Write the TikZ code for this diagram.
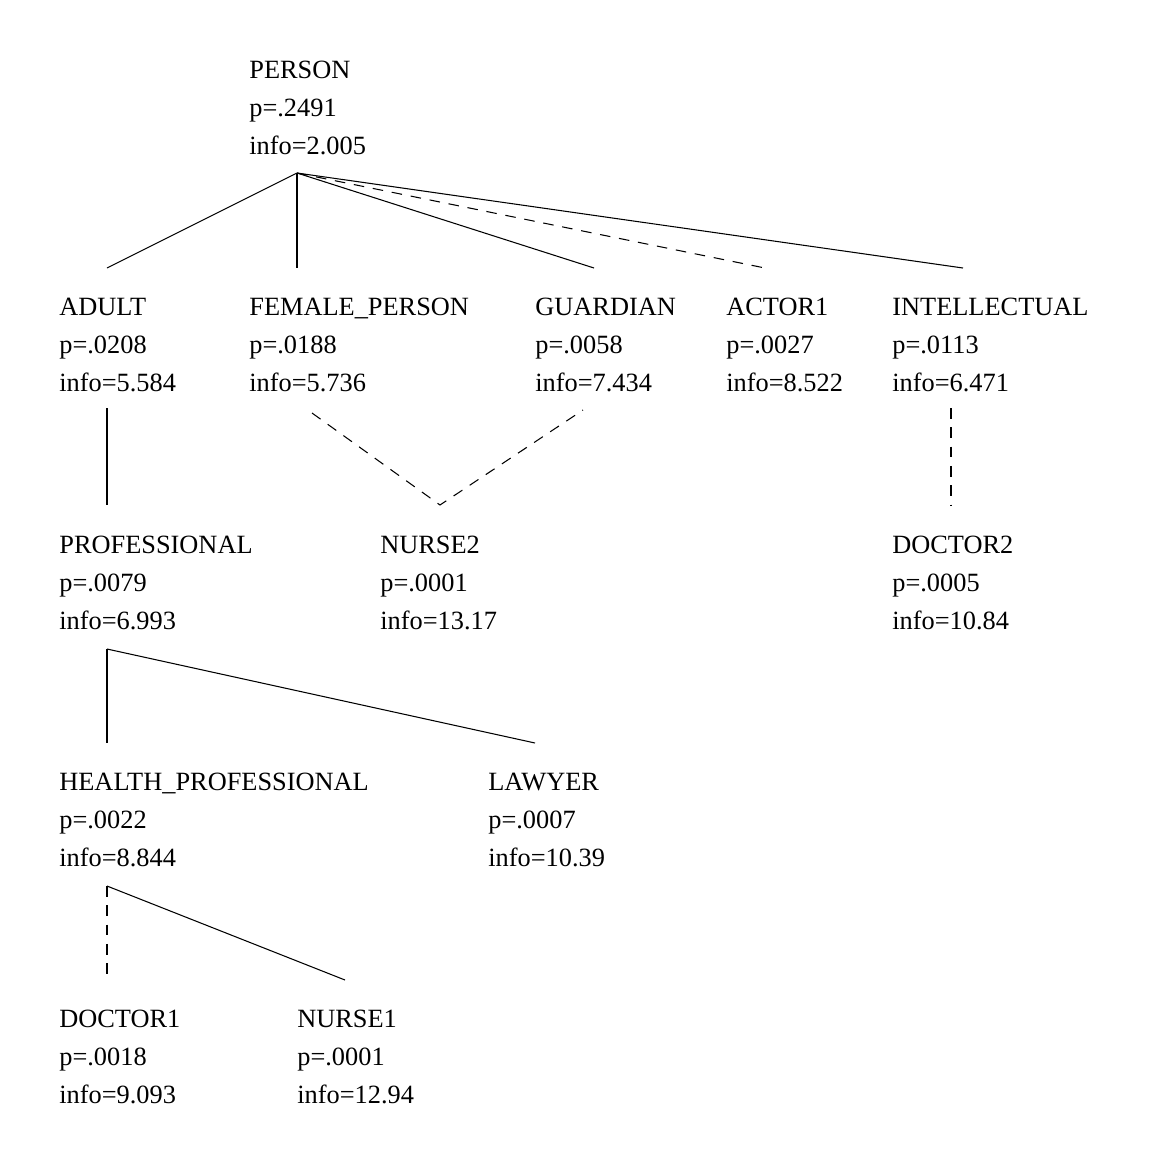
\documentclass[tikz,border=0pt]{standalone}
\usepackage{fontspec}
\setmainfont{Liberation Serif}
\begin{document}
\begin{tikzpicture}[x=0.02cm,y=-0.02cm,
    lbl/.style={anchor=base west,inner sep=0pt,font=\fontsize{15}{18}\selectfont},
    isa/.style={line width=0.6pt},
    isd/.style={line width=0.6pt,dash pattern=on 6pt off 5pt}]
    \useasboundingbox (0,0) rectangle (1163,1164);
    % concept: name, x, baseline, title, p, info
    \newcommand{\concept}[6]{%
        \node[lbl] (#1) at (#2,#3) {#4};
        \node[lbl] (#1-p) at (#2,#3+38) {p=#5};
        \node[lbl] (#1-i) at (#2,#3+76) {info=#6};}

    % top level
    \concept{person}{249}{78}{PERSON}{.2491}{2.005}
    \concept{adult}{59}{315}{ADULT}{.0208}{5.584}
    \concept{female}{249}{315}{FEMALE\_PERSON}{.0188}{5.736}
    \concept{guardian}{535}{315}{GUARDIAN}{.0058}{7.434}
    \concept{actor}{726}{315}{ACTOR1}{.0027}{8.522}
    \concept{intel}{892}{315}{INTELLECTUAL}{.0113}{6.471}

    % second level
    \concept{prof}{59}{553}{PROFESSIONAL}{.0079}{6.993}
    \concept{nurseB}{380}{553}{NURSE2}{.0001}{13.17}
    \concept{doctorB}{892}{553}{DOCTOR2}{.0005}{10.84}
    \concept{health}{59}{790}{HEALTH\_PROFESSIONAL}{.0022}{8.844}
    \concept{lawyer}{488}{790}{LAWYER}{.0007}{10.39}
    \concept{doctorA}{59}{1027}{DOCTOR1}{.0018}{9.093}
    \concept{nurseA}{297}{1027}{NURSE1}{.0001}{12.94}

    % link ends
    \coordinate (person-b) at (297,173);
    \coordinate (adult-t) at (107,268);
    \coordinate (female-t) at (297,268);
    \coordinate (guardian-t) at (594,268);
    \coordinate (actor-t) at (765,268);
    \coordinate (intel-t) at (963,268);
    \coordinate (adult-b) at (107,408);
    \coordinate (female-b) at (312,413);
    \coordinate (guardian-b) at (583,410);
    \coordinate (intel-b) at (951,408);
    \coordinate (prof-t) at (107,505);
    \coordinate (nurseB-t) at (440,505);
    \coordinate (doctorB-t) at (951,505);
    \coordinate (prof-b) at (107,649);
    \coordinate (health-t) at (107,743);
    \coordinate (lawyer-t) at (535,743);
    \coordinate (health-b) at (107,886);
    \coordinate (doctorA-t) at (107,980);
    \coordinate (nurseA-t) at (345,980);

    \draw[isa] (person-b) -- (adult-t);
    \draw[isa] (person-b) -- (female-t);
    \draw[isa] (person-b) -- (guardian-t);
    \draw[isd] (person-b) -- (actor-t);
    \draw[isa] (person-b) -- (intel-t);
    \draw[isa] (adult-b) -- (prof-t);
    \draw[isd] (female-b) -- (nurseB-t) -- (guardian-b);
    \draw[isd] (intel-b) -- (doctorB-t);
    \draw[isa] (prof-b) -- (health-t);
    \draw[isa] (prof-b) -- (lawyer-t);
    \draw[isd] (health-b) -- (doctorA-t);
    \draw[isa] (health-b) -- (nurseA-t);
\end{tikzpicture}
\end{document}
